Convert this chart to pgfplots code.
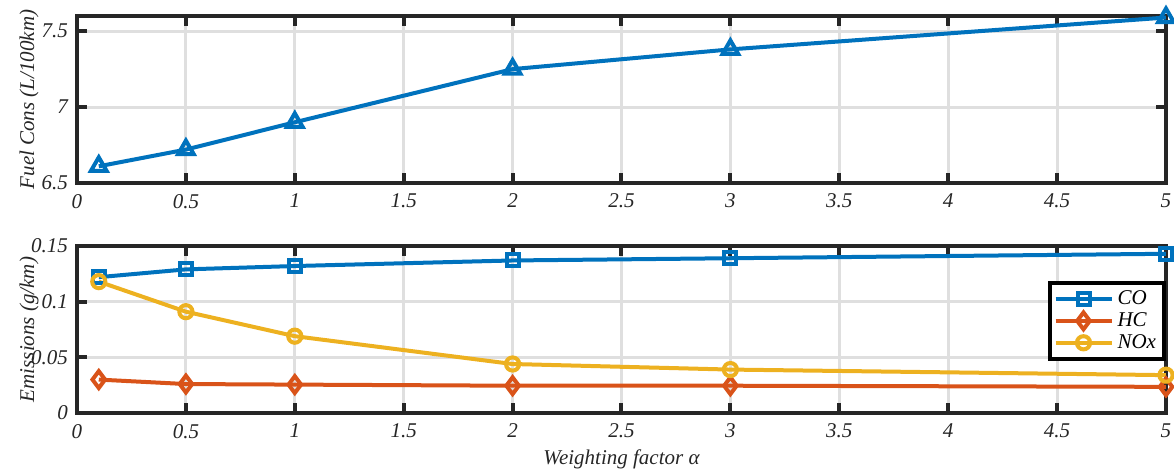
\documentclass[border=0pt]{standalone}
\usepackage{pgfplots}
\pgfplotsset{compat=1.18}
\usepackage{fontspec}
\setmainfont{Liberation Serif}
\definecolor{mblue}{HTML}{0072BD}
\definecolor{mred}{HTML}{D95319}
\definecolor{myel}{HTML}{EDB120}
\definecolor{axc}{HTML}{262626}
\definecolor{gridc}{HTML}{DFDFDF}
\pgfplotsset{
  common/.style={
    scale only axis, width=544.5pt, height=83.5pt,
    xmin=0, xmax=5,
    xtick={0,0.5,...,5},
    axis line style={axc, line width=2pt},
    tick style={axc, line width=2pt},
    major tick length=5pt,
    tick align=inside,
    tick pos=both,
    xmajorgrids, ymajorgrids,
    major grid style={gridc, line width=1.5pt},
    tick label style={font=\itshape\fontsize{10.5}{12}\selectfont, text=axc},
    label style={font=\itshape\fontsize{10.5}{12}\selectfont, text=axc},
    /pgf/number format/assume math mode=true,
    every axis plot/.append style={line width=2pt},
    xticklabel style={yshift=-2pt},
    yticklabel style={xshift=-1pt},
    ylabel style={at={(axis description cs:-0.044,0.5)}, anchor=center},
  }
}
\begin{document}
\begin{tikzpicture}
\begin{axis}[common, name=top, at={(0,0)}, anchor=south west,
  ymin=6.5, ymax=7.6, ytick={6.5,7,7.5},
  yticklabels={6.5,7,7.5},
  ylabel={Fuel Cons (L/100km)}]
\addplot[mblue, mark=triangle, mark size=4.5pt, mark options={line width=2pt}]
 coordinates {(0.1,6.61) (0.5,6.72) (1,6.90) (2,7.25) (3,7.38) (5,7.59)};
\end{axis}
\begin{axis}[common, name=bot, at={(0,-31.5pt)}, anchor=north west,
  ymin=0, ymax=0.15, ytick={0,0.05,0.1,0.15},
  yticklabels={0,0.05,0.1,0.15},
  xlabel={Weighting factor α},
  xlabel style={yshift=1pt},
  ylabel={Emissions (g/km)},
  legend style={at={(axis cs:5,0.119)}, anchor=north east, draw=black, line width=2pt,
    font=\itshape\fontsize{10.5}{12}\selectfont, row sep=-1.5pt, inner xsep=2pt, inner ysep=2pt,
    legend cell align=left},
  legend image code/.code={\draw[#1] (0cm,0cm) -- (28pt,0cm); \draw[#1, only marks] plot coordinates {(14pt,0cm)};}]
\addplot[mblue, mark=square, mark size=3pt, mark options={line width=2pt}]
 coordinates {(0.1,0.122) (0.5,0.129) (1,0.132) (2,0.137) (3,0.139) (5,0.143)};
\addlegendentry{CO}
\addplot[mred, mark=diamond, mark size=4.2pt, mark options={line width=2pt}]
 coordinates {(0.1,0.030) (0.5,0.026) (1,0.0255) (2,0.0245) (3,0.0245) (5,0.0235)};
\addlegendentry{HC}
\addplot[myel, mark=o, mark size=3.3pt, mark options={line width=2pt}]
 coordinates {(0.1,0.118) (0.5,0.091) (1,0.069) (2,0.044) (3,0.039) (5,0.034)};
\addlegendentry{NOx}
\end{axis}
\pgfresetboundingbox
\path[use as bounding box] (-38.5pt,91.5pt) rectangle (548.5pt,-143pt);
\end{tikzpicture}
\end{document}
